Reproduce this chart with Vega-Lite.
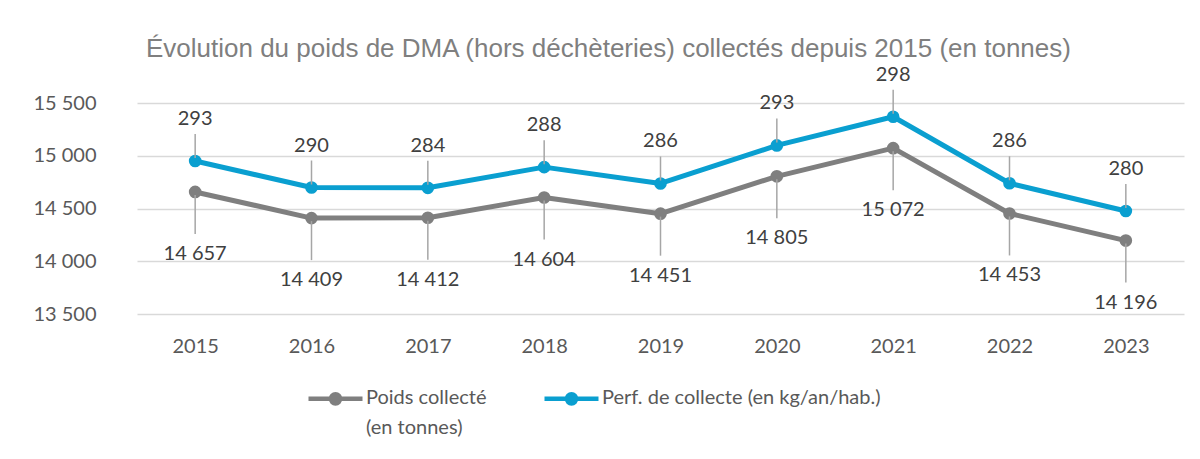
{
  "$schema": "https://vega.github.io/schema/vega-lite/v6.json",
  "autosize": "none",
  "width": 1047,
  "height": 211,
  "padding": {"left": 137, "top": 103, "right": 16, "bottom": 145},
  "background": "white",
  "title": {
    "text": "Évolution du poids de DMA (hors déchèteries) collectés depuis 2015 (en tonnes)",
    "font": "Liberation Sans Narrow, Arial Narrow, Liberation Sans",
    "fontSize": 26,
    "fontWeight": "normal",
    "color": "#7f7f7f",
    "anchor": "middle",
    "frame": "bounds",
    "baseline": "alphabetic",
    "offset": -18,
    "dx": 0
  },
  "data": {
    "values": [
      {"annee": "2015", "serie": "Poids collecté (en tonnes)", "valeur": 14657},
      {"annee": "2016", "serie": "Poids collecté (en tonnes)", "valeur": 14409},
      {"annee": "2017", "serie": "Poids collecté (en tonnes)", "valeur": 14412},
      {"annee": "2018", "serie": "Poids collecté (en tonnes)", "valeur": 14604},
      {"annee": "2019", "serie": "Poids collecté (en tonnes)", "valeur": 14451},
      {"annee": "2020", "serie": "Poids collecté (en tonnes)", "valeur": 14805},
      {"annee": "2021", "serie": "Poids collecté (en tonnes)", "valeur": 15072},
      {"annee": "2022", "serie": "Poids collecté (en tonnes)", "valeur": 14453},
      {"annee": "2023", "serie": "Poids collecté (en tonnes)", "valeur": 14196},
      {"annee": "2015", "serie": "Perf. de collecte (en kg/an/hab.)", "valeur": 293},
      {"annee": "2016", "serie": "Perf. de collecte (en kg/an/hab.)", "valeur": 290},
      {"annee": "2017", "serie": "Perf. de collecte (en kg/an/hab.)", "valeur": 284},
      {"annee": "2018", "serie": "Perf. de collecte (en kg/an/hab.)", "valeur": 288},
      {"annee": "2019", "serie": "Perf. de collecte (en kg/an/hab.)", "valeur": 286},
      {"annee": "2020", "serie": "Perf. de collecte (en kg/an/hab.)", "valeur": 293},
      {"annee": "2021", "serie": "Perf. de collecte (en kg/an/hab.)", "valeur": 298},
      {"annee": "2022", "serie": "Perf. de collecte (en kg/an/hab.)", "valeur": 286},
      {"annee": "2023", "serie": "Perf. de collecte (en kg/an/hab.)", "valeur": 280}
    ]
  },
  "transform": [
    {"stack": "valeur", "groupby": ["annee"], "sort": [{"field": "serie", "order": "descending"}], "as": ["y0", "y1"]}
  ],
  "encoding": {
    "x": {
      "field": "annee", "type": "ordinal",
      "scale": {"type": "point", "padding": 0.5},
      "axis": {"title": null, "labelAngle": 0, "domain": false, "ticks": false, "grid": false,
               "labelPadding": 22, "labelFontSize": 20, "labelColor": "#595959", "labelFont": "Lato"}
    },
    "y": {
      "field": "y1", "type": "quantitative",
      "scale": {"domain": [13500, 15500], "nice": false, "zero": false},
      "axis": {"title": null, "values": [13500, 14000, 14500, 15000, 15500], "format": ",d",
               "domain": false, "ticks": false, "grid": true, "gridColor": "#d9d9d9", "gridWidth": 1.5,
               "labelPadding": 41, "labelFontSize": 20, "labelColor": "#595959", "labelFont": "Lato"}
    }
  },
  "layer": [
    {
      "mark": {"type": "line", "strokeWidth": 5, "strokeCap": "round", "strokeJoin": "round"},
      "encoding": {
        "color": {
          "field": "serie", "type": "nominal",
          "scale": {"domain": ["Poids collecté (en tonnes)", "Perf. de collecte (en kg/an/hab.)"], "range": ["#7f7f7f", "#0a9fd0"]},
          "legend": {
            "title": null, "orient": "none", "direction": "horizontal", "legendX": 169, "legendY": 255,
            "symbolType": "M-1,0.41L1,0.41M-0.17,0.41A0.17,0.17,0,1,0,0.17,0.41A0.17,0.17,0,1,0,-0.17,0.41Z",
            "symbolSize": 2916, "symbolStrokeWidth": 4.5,
            "labelFontSize": 20, "labelFont": "Lato", "labelColor": "#595959", "labelBaseline": "top",
            "labelOffset": 1, "columnPadding": 48, "padding": 0, "labelLimit": 400,
            "labelExpr": "datum.label == 'Poids collecté (en tonnes)' ? ['Poids collecté', '(en tonnes)'] : [datum.label, ' ']"
          }
        }
      }
    },
    {
      "mark": {"type": "point", "filled": true, "size": 160, "opacity": 1},
      "encoding": {
        "color": {
          "field": "serie", "type": "nominal",
          "scale": {"domain": ["Poids collecté (en tonnes)", "Perf. de collecte (en kg/an/hab.)"], "range": ["#7f7f7f", "#0a9fd0"]},
          "legend": {
            "title": null, "orient": "none", "direction": "horizontal", "legendX": 169, "legendY": 255,
            "symbolType": "M-1,0.41L1,0.41M-0.17,0.41A0.17,0.17,0,1,0,0.17,0.41A0.17,0.17,0,1,0,-0.17,0.41Z",
            "symbolSize": 2916, "symbolStrokeWidth": 4.5,
            "labelFontSize": 20, "labelFont": "Lato", "labelColor": "#595959", "labelBaseline": "top",
            "labelOffset": 1, "columnPadding": 48, "padding": 0, "labelLimit": 400,
            "labelExpr": "datum.label == 'Poids collecté (en tonnes)' ? ['Poids collecté', '(en tonnes)'] : [datum.label, ' ']"
          }
        }
      }
    },
    {
      "transform": [{"filter": "datum.serie == 'Perf. de collecte (en kg/an/hab.)'"}],
      "mark": {"type": "rule", "color": "#a6a6a6", "strokeWidth": 1.5, "y2Offset": -27, "yOffset": -3},
      "encoding": {"y2": {"field": "y1"}}
    },
    {
      "transform": [{"filter": "datum.serie == 'Poids collecté (en tonnes)'"}],
      "mark": {"type": "rule", "color": "#a6a6a6", "strokeWidth": 1.5, "y2Offset": 42, "yOffset": 3},
      "encoding": {"y2": {"field": "y1"}}
    },
    {
      "transform": [{"filter": "datum.serie == 'Perf. de collecte (en kg/an/hab.)'"}],
      "mark": {"type": "text", "dy": -42, "fontSize": 20, "font": "Lato", "color": "#404040", "baseline": "middle"},
      "encoding": {"text": {"field": "valeur", "type": "quantitative", "format": ",d"}}
    },
    {
      "transform": [{"filter": "datum.serie == 'Poids collecté (en tonnes)'"}],
      "mark": {"type": "text", "dy": 62, "fontSize": 20, "font": "Lato", "color": "#404040", "baseline": "middle"},
      "encoding": {"text": {"field": "valeur", "type": "quantitative", "format": ",d"}}
    }
  ],
  "config": {
    "view": {"stroke": null},
    "style": {"guide-label": {"lineHeight": 30}},
    "locale": {"number": {"decimal": ",", "thousands": " ", "grouping": [3], "currency": ["", " €"]}}
  }
}
